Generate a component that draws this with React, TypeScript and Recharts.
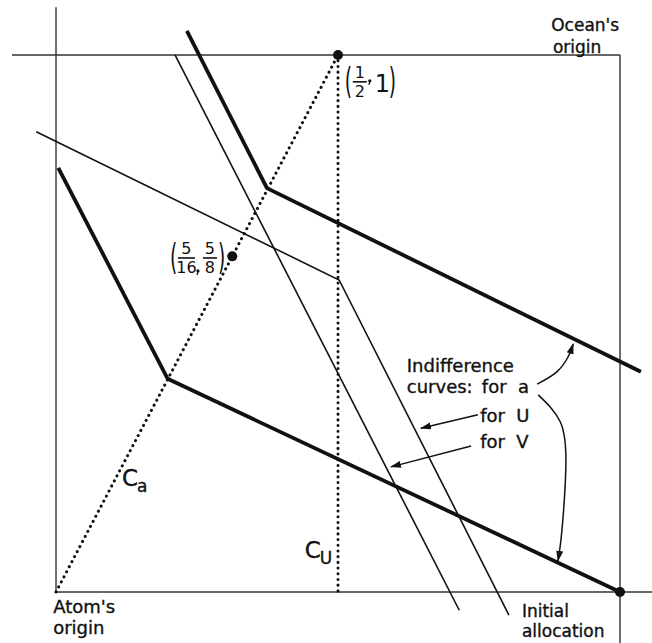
import React from 'react';
import { ComposedChart, Line, XAxis, YAxis, ReferenceDot } from 'recharts';

// Edgeworth box, unit square: Atom's origin at (0,0), Ocean's origin at (1,1)
const X_DOMAIN: [number, number] = [-0.0993, 1.0567];
const Y_DOMAIN: [number, number] = [-0.095, 1.1024];

const boxLeft = [{ x: 0, y: 0 }, { x: 0, y: 1.089 }];
const boxTop = [{ x: -0.078, y: 1 }, { x: 1, y: 1 }];
const boxRight = [{ x: 1, y: 1 }, { x: 1, y: -0.095 }];
const boxBottom = [{ x: 0, y: 0 }, { x: 1.057, y: 0 }];

// contract curves (dotted)
const contractA = [{ x: 0, y: 0 }, { x: 0.5, y: 1 }];
const contractU = [{ x: 0.5, y: 1 }, { x: 0.5, y: 0 }];

// indifference curves
const curveA1 = [{ x: 0.004, y: 0.79 }, { x: 0.198, y: 0.397 }, { x: 1, y: 0 }];
const curveA2 = [{ x: 0.232, y: 1.045 }, { x: 0.374, y: 0.752 }, { x: 1.037, y: 0.41 }];
const curveU = [{ x: -0.035, y: 0.857 }, { x: 0.502, y: 0.581 }, { x: 0.803, y: -0.043 }];
const curveV = [{ x: 0.211, y: 1.0 }, { x: 0.715, y: -0.034 }];

// pointer arrows from the legend text
const arrowA2 = [{ x: 0.853, y: 0.387 }, { x: 0.888, y: 0.41 }, { x: 0.908, y: 0.438 }, { x: 0.917, y: 0.462 }];
const arrowA1 = [{ x: 0.855, y: 0.367 }, { x: 0.894, y: 0.317 }, { x: 0.904, y: 0.236 }, { x: 0.897, y: 0.115 }, { x: 0.89, y: 0.058 }];
const arrowU = [{ x: 0.748, y: 0.33 }, { x: 0.647, y: 0.305 }];
const arrowV = [{ x: 0.736, y: 0.272 }, { x: 0.594, y: 0.233 }];

const keyPoints = [
  { x: 0.5, y: 1 },
  { x: 0.3125, y: 0.625 },
  { x: 1, y: 0 },
];

// text anchors (left end of baseline)
const labels = [
  { x: 0.878, y: 1.0445, text: "Ocean's", size: 17 },
  { x: 0.881, y: 1.0035, text: 'origin', size: 17 },
  { x: -0.005, y: -0.039, text: "Atom's", size: 18 },
  { x: -0.005, y: -0.079, text: 'origin', size: 18 },
  { x: 0.826, y: -0.046, text: 'Initial', size: 17 },
  { x: 0.826, y: -0.084, text: 'allocation', size: 17 },
  { x: 0.622, y: 0.41, text: 'Indifference', size: 18 },
  { x: 0.622, y: 0.371, text: 'curves:', size: 18 },
  { x: 0.755, y: 0.371, text: 'for  a', size: 18 },
  { x: 0.752, y: 0.317, text: 'for  U', size: 18 },
  { x: 0.752, y: 0.268, text: 'for  V', size: 18 },
];

const curveLabels = [
  { x: 0.117, y: 0.197, main: 'C', sub: 'a' },
  { x: 0.441, y: 0.063, main: 'C', sub: 'U' },
];

const fractionLabels = [
  { x: 0.512, y: 0.95, parts: [['1', '2'], ['1']] },
  { x: 0.202, y: 0.622, parts: [['5', '16'], ['5', '8']] },
];

const FONT = '"DejaVu Sans", sans-serif';
const INK = '#111';

const Paren = ({ x, y, ch }: { x: number; y: number; ch: string }) => (
  <text transform={`translate(${x},${y}) scale(0.85,1.6)`} y={7} fontSize={22} fontFamily={FONT} fill={INK}>
    {ch}
  </text>
);

const Fraction = ({ cx, cy, parts }: { cx: number; cy: number; parts: string[][] }) => {
  const els: React.ReactNode[] = [<Paren key="l" x={cx} y={cy} ch="(" />];
  let dx = 8;
  parts.forEach((p, i) => {
    if (p.length === 2) {
      const w = p[1].length > 1 ? 17 : 14;
      const mid = cx + dx + w / 2;
      els.push(
        <text key={`n${i}`} x={mid} y={cy - 4} textAnchor="middle" fontSize={16} fontFamily={FONT} fill={INK}>{p[0]}</text>,
        <line key={`b${i}`} x1={cx + dx} x2={cx + dx + w} y1={cy} y2={cy} stroke={INK} strokeWidth={1.6} />,
        <text key={`d${i}`} x={mid} y={cy + 15} textAnchor="middle" fontSize={16} fontFamily={FONT} fill={INK}>{p[1]}</text>
      );
      dx += w;
    } else {
      els.push(
        <text key={`s${i}`} x={cx + dx + 5} y={cy + 10} fontSize={24} fontFamily={FONT} fill={INK}>{p[0]}</text>
      );
      dx += 18;
    }
    if (i === 0) {
      const low = parts[1].length === 2;
      els.push(
        <circle key="c" cx={cx + dx + 3} cy={low ? cy + 13 : cy - 1} r={1.6} fill={INK} />,
        <line key="ct" x1={cx + dx + 3.5} y1={low ? cy + 13 : cy - 1} x2={cx + dx + 2} y2={low ? cy + 17 : cy + 3} stroke={INK} strokeWidth={1.3} />
      );
      dx += low ? 8 : 3;
    }
  });
  els.push(<Paren key="r" x={cx + dx + 1} y={cy} ch=")" />);
  return <g>{els}</g>;
};

const thin = { stroke: INK, strokeWidth: 1.6, dot: false, activeDot: false, isAnimationActive: false, legendType: 'none' as const };
const thick = { ...thin, strokeWidth: 3.8, strokeLinejoin: 'miter' as const };
const frame = { ...thin, stroke: '#333', strokeWidth: 1.4 };
const dotted = { ...thin, strokeWidth: 3, strokeDasharray: '0.1 5.6', strokeLinecap: 'round' as const };
const pointer = { ...thin, strokeWidth: 1.5, type: 'natural' as const, markerEnd: 'url(#arrowHead)' };

const textStyle = { fontFamily: FONT, fill: INK, stroke: INK, strokeWidth: 0.35 };

export default function App() {
  return (
    <div style={{ width: 652, height: 643, background: '#fff' }}>
      <style>{'body{margin:0;background:#fff}'}</style>
      <ComposedChart width={652} height={643} margin={{ top: 0, right: 0, bottom: 0, left: 0 }}>
        <defs>
          <marker id="arrowHead" markerWidth="11" markerHeight="8" refX="10" refY="4" orient="auto" markerUnits="userSpaceOnUse">
            <path d="M0,0.5 L11,4 L0,7.5 z" fill={INK} />
          </marker>
        </defs>
        <XAxis type="number" dataKey="x" domain={X_DOMAIN} allowDataOverflow hide />
        <YAxis type="number" dataKey="y" domain={Y_DOMAIN} allowDataOverflow hide />

        <Line {...frame} data={boxLeft} dataKey="y" />
        <Line {...frame} data={boxTop} dataKey="y" />
        <Line {...frame} data={boxRight} dataKey="y" />
        <Line {...frame} data={boxBottom} dataKey="y" />

        <Line {...dotted} data={contractA} dataKey="y" />
        <Line {...dotted} data={contractU} dataKey="y" />

        <Line {...thick} data={curveA1} dataKey="y" />
        <Line {...thick} data={curveA2} dataKey="y" />
        <Line {...thin} data={curveU} dataKey="y" />
        <Line {...thin} data={curveV} dataKey="y" />

        <Line {...pointer} data={arrowA1} dataKey="y" />
        <Line {...pointer} data={arrowA2} dataKey="y" />
        <Line {...pointer} type="linear" data={arrowU} dataKey="y" />
        <Line {...pointer} type="linear" data={arrowV} dataKey="y" />

        {keyPoints.map((p, i) => (
          <ReferenceDot key={`p${i}`} x={p.x} y={p.y} r={5} fill={INK} stroke="none" />
        ))}

        {labels.map((l, i) => (
          <ReferenceDot
            key={`l${i}`}
            x={l.x}
            y={l.y}
            r={1}
            shape={(props: any) => (
              <text x={props.cx} y={props.cy} fontSize={l.size} {...textStyle} style={{ whiteSpace: 'pre' }}>
                {l.text}
              </text>
            )}
          />
        ))}

        {curveLabels.map((l, i) => (
          <ReferenceDot
            key={`c${i}`}
            x={l.x}
            y={l.y}
            r={1}
            shape={(props: any) => (
              <g>
                <text x={props.cx} y={props.cy} fontSize={23} {...textStyle}>{l.main}</text>
                <text x={props.cx + 15} y={props.cy + 6} fontSize={17} {...textStyle}>{l.sub}</text>
              </g>
            )}
          />
        ))}

        {fractionLabels.map((f, i) => (
          <ReferenceDot
            key={`f${i}`}
            x={f.x}
            y={f.y}
            r={1}
            shape={(props: any) => <Fraction cx={props.cx} cy={props.cy} parts={f.parts} />}
          />
        ))}
      </ComposedChart>
    </div>
  );
}
